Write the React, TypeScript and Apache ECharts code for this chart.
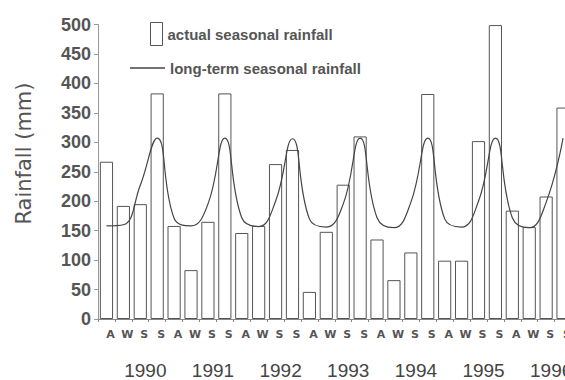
import React, { useEffect, useRef } from 'react';
import * as echarts from 'echarts';

const seasonLabels = [
  'A', 'W', 'S', 'S', 'A', 'W', 'S', 'S', 'A', 'W', 'S', 'S', 'A', 'W', 'S', 'S',
  'A', 'W', 'S', 'S', 'A', 'W', 'S', 'S', 'A', 'W', 'S', 'S',
];
const years = ['1990', '1991', '1992', '1993', '1994', '1995', '1996'];
const actualRainfall = [
  267, 192, 195, 383, 158, 83, 165, 383, 146, 158, 263, 287, 46, 148,
  228, 310, 135, 66, 113, 382, 99, 99, 302, 499, 184, 156, 208, 359,
];
const longTermRainfall = [
  158, 160, 227, 307, 171, 158, 195, 307, 172, 157, 200, 306, 170, 156,
  195, 307, 172, 155, 198, 307, 170, 156, 200, 307, 172, 155, 198, 307,
];
const yTicks = { min: 0, max: 500, interval: 50 };

export default function App() {
  const ref = useRef<HTMLDivElement>(null);
  useEffect(() => {
    if (!ref.current) return;
    const chart = echarts.init(ref.current, undefined, { renderer: 'svg' });
    const legendText = { fontFamily: 'Liberation Sans', fontWeight: 'bold', fontSize: 15, color: '#555' };
    chart.setOption({
      animation: false,
      backgroundColor: '#fff',
      grid: {
        left: 98,
        top: 24.5,
        width: 473.5,
        height: 294.5,
        containLabel: false,
        outerBoundsMode: 'none',
      },
      legend: [
        {
          data: [
            {
              name: 'actual seasonal rainfall',
              icon: 'rect',
              itemStyle: { color: '#fff', borderColor: '#555', borderWidth: 1 },
            },
          ],
          left: 150,
          top: 22,
          padding: 0,
          itemWidth: 12,
          itemHeight: 23,
          textStyle: legendText,
        },
        {
          data: [
            {
              name: 'long-term seasonal rainfall',
              icon: 'rect',
              itemStyle: { color: '#444', borderWidth: 0 },
            },
          ],
          left: 130,
          top: 60,
          padding: 0,
          itemWidth: 35,
          itemHeight: 1.3,
          textStyle: { ...legendText, lineHeight: 16 },
        },
      ],
      xAxis: [
        {
          type: 'category',
          data: seasonLabels,
          boundaryGap: true,
          axisLine: { lineStyle: { color: '#888', width: 1 } },
          axisTick: { show: true, length: 3, lineStyle: { color: '#888' } },
          axisLabel: {
            interval: 0,
            fontFamily: 'DejaVu Sans',
            fontWeight: 'bold',
            fontSize: 11,
            color: '#555',
            margin: 10,
            padding: [0, 0, 0, 8],
          },
          splitLine: { show: false },
        },
        {
          type: 'category',
          data: years,
          position: 'bottom',
          boundaryGap: true,
          axisLine: { show: false },
          axisTick: { show: false },
          axisLabel: {
            interval: 0,
            fontFamily: 'Liberation Sans',
            fontSize: 19,
            color: '#444',
            margin: 42,
            padding: [0, 0, 0, 27],
          },
          splitLine: { show: false },
        },
      ],
      yAxis: {
        type: 'value',
        min: yTicks.min,
        max: yTicks.max,
        interval: yTicks.interval,
        axisLine: { show: true, lineStyle: { color: '#999', width: 1 } },
        axisTick: { show: true, length: 4, lineStyle: { color: '#999' } },
        splitLine: { show: false },
        axisLabel: {
          fontFamily: 'Liberation Sans',
          fontWeight: 'bold',
          fontSize: 18,
          color: '#555',
          margin: 7,
        },
      },
      graphic: [
        {
          type: 'text',
          x: 23.5,
          y: 153.5,
          rotation: Math.PI / 2,
          style: {
            text: 'Rainfall (mm)',
            font: '21px "DejaVu Sans"',
            fill: '#555',
            align: 'center',
            verticalAlign: 'middle',
          },
        },
      ],
      series: [
        {
          name: 'actual seasonal rainfall',
          type: 'bar',
          xAxisIndex: 0,
          data: actualRainfall,
          barWidth: '78%',
          itemStyle: { color: '#fff', borderColor: '#555', borderWidth: 1 },
        },
        {
          name: 'long-term seasonal rainfall',
          type: 'line',
          xAxisIndex: 0,
          data: longTermRainfall,
          smooth: 0.45,
          symbol: 'none',
          itemStyle: { color: '#444' },
          lineStyle: { color: '#444', width: 1.2 },
        },
      ],
    });
    return () => chart.dispose();
  }, []);
  return (
    <div
      ref={ref}
      style={{ position: 'absolute', left: 0, top: 0, width: 565, height: 380 }}
    />
  );
}
